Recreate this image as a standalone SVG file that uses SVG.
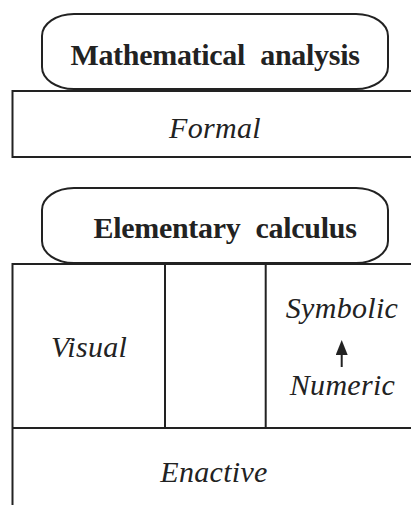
<svg xmlns="http://www.w3.org/2000/svg" width="411" height="505" viewBox="0 0 411 505">
<style>
.box{fill:none;stroke:#222;stroke-width:2}
.pill{fill:#fff;stroke:#222;stroke-width:2}
.title{font-family:'Liberation Serif','DejaVu Serif',serif;font-weight:bold;font-size:30px;fill:#222;text-anchor:middle}
.lbl{font-family:'Liberation Serif','DejaVu Serif',serif;font-style:italic;font-size:30px;fill:#222;text-anchor:middle;letter-spacing:0.3px}
</style>
<defs>
<marker id="ah" viewBox="0 0 10 8" refX="0" refY="4" markerWidth="15" markerHeight="12" markerUnits="userSpaceOnUse" orient="auto">
<path d="M0,0 L10,4 L0,8 z" fill="#222"/>
</marker>
</defs>
<rect width="411" height="505" fill="#fff"/>
<g id="formal">
<path class="box" d="M420,91 H12.5 V157 H420"/>
<text class="lbl" x="215" y="138" font-family="Liberation Serif">Formal</text>
</g>
<g id="mathematical-analysis">
<rect class="pill" x="42" y="14" width="346" height="75" rx="32" ry="22"/>
<text class="title" x="215" y="65" font-family="Liberation Serif" letter-spacing="-0.3" word-spacing="8">Mathematical analysis</text>
</g>
<g id="grid">
<path class="box" d="M420,264 H12.5 V505 M12.5,428 H420 M165,264 V428 M265.7,264 V428"/>
</g>
<g id="elementary-calculus">
<rect class="pill" x="42" y="188" width="346" height="75" rx="32" ry="22"/>
<text class="title" x="225" y="238" font-family="Liberation Serif" letter-spacing="-0.3" word-spacing="8">Elementary calculus</text>
</g>
<g id="visual"><text class="lbl" x="89" y="357" font-family="Liberation Serif">Visual</text></g>
<g id="symbolic"><text class="lbl" x="342" y="318" font-family="Liberation Serif">Symbolic</text></g>
<g id="numeric"><text class="lbl" x="342.5" y="395" font-family="Liberation Serif">Numeric</text></g>
<g id="enactive"><text class="lbl" x="214" y="482" font-family="Liberation Serif">Enactive</text></g>
<g id="connectors">
<line x1="341.7" y1="367" x2="341.7" y2="355" stroke="#222" stroke-width="2" marker-end="url(#ah)"/>
</g>
</svg>
